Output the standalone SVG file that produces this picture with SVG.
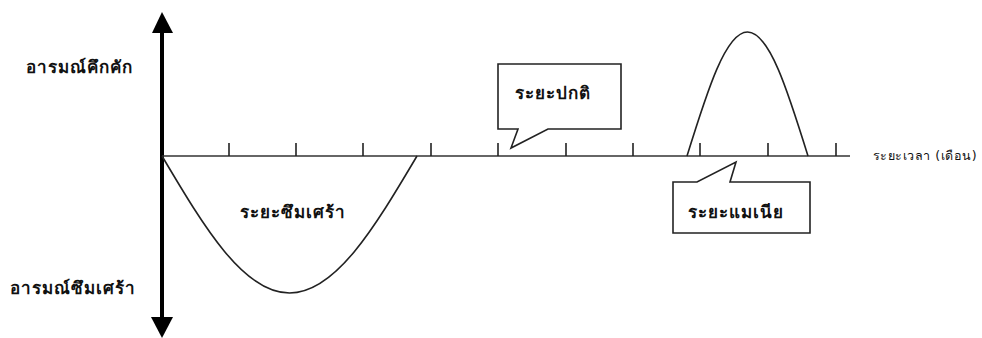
<svg xmlns="http://www.w3.org/2000/svg" width="982" height="338" viewBox="0 0 982 338">
<style>
.lbl{font-family:"DejaVu Sans","Noto Sans",sans-serif;font-weight:bold;font-size:17px;letter-spacing:1px;fill:#111}
.small{font-family:"DejaVu Sans","Noto Sans",sans-serif;font-size:12.5px;letter-spacing:0.5px;fill:#111}
.ln{fill:none;stroke:#222;stroke-width:1.6}
.box{fill:#fff;stroke:#222;stroke-width:1.6}
</style>
<rect width="982" height="338" fill="#fff"/>
<g id="axes">
<line x1="162" y1="30" x2="162" y2="320" stroke="#000" stroke-width="4"/>
<polygon points="162,12 152,33 173,33" fill="#000"/>
<polygon points="162,338 151,317 173,317" fill="#000"/>
<line x1="162" y1="156" x2="850" y2="156" stroke="#333" stroke-width="1.6"/>
<path class="ln" d="M229,143V156M296,143V156M363,143V156M431,143V156M498,143V156M566,143V156M633,143V156M700,143V156M768,143V156M836,143V156"/>
</g>
<g id="curves">
<path class="ln" d="M162,156 C204.6,227.9 243.6,293 289.5,293 C335.4,293 374.4,227.9 417,156"/>
<path class="ln" d="M687,156 C707.2,90.9 725.7,32 747.5,32 C769.3,32 787.8,90.9 808,156"/>
</g>
<g id="label-high"><text class="lbl" x="79" y="73" text-anchor="middle">อารมณ์คึกคัก</text></g>
<g id="label-low"><text class="lbl" x="73" y="294" text-anchor="middle">อารมณ์ซึมเศร้า</text></g>
<g id="label-time"><text class="small" x="925" y="160" text-anchor="middle">ระยะเวลา (เดือน)</text></g>
<g id="label-depression"><text class="lbl" x="293" y="218" text-anchor="middle">ระยะซึมเศร้า</text></g>
<g id="callout-normal">
<path class="box" d="M498,64 H621 V129 H548 L511,148 L518,129 H498 Z"/>
<text class="lbl" x="553" y="99" text-anchor="middle">ระยะปกติ</text>
</g>
<g id="callout-mania">
<path class="box" d="M673,182 H697 L736,162 L730,182 H810 V233 H673 Z"/>
<text class="lbl" x="736" y="218" text-anchor="middle">ระยะแมเนีย</text>
</g>
</svg>
